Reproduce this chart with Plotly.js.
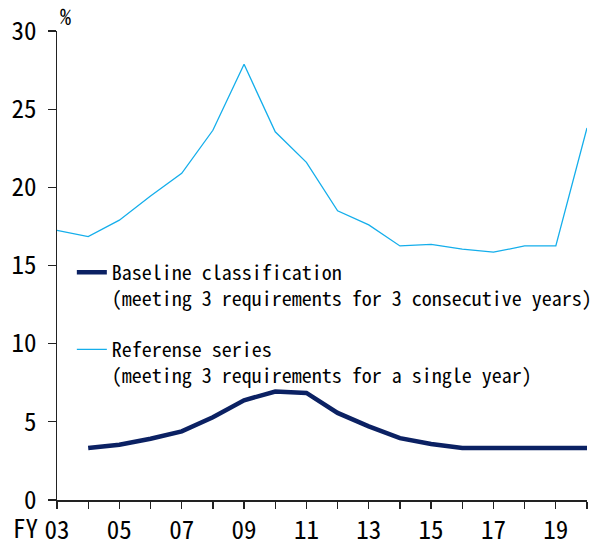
<!DOCTYPE html>
<html>
<head>
<meta charset="utf-8">
<script src="https://cdn.plot.ly/plotly-3.0.1.min.js"></script>
<style>html,body{margin:0;padding:0;background:#fff;}#chart{width:610px;height:544px;}</style>
</head>
<body>
<div id="chart"></div>
<script>
const years = [3,4,5,6,7,8,9,10,11,12,13,14,15,16,17,18,19,20];
const baselineValues = [null,3.32,3.53,3.92,4.39,5.29,6.38,6.94,6.85,5.57,4.71,3.96,3.58,3.32,3.32,3.32,3.32,3.32];
const referenceValues = [17.25,16.85,17.9,19.45,20.9,23.65,27.87,23.55,21.6,18.5,17.6,16.25,16.35,16.05,15.85,16.25,16.25,23.8];
const baselineName = "Baseline classification<br>(meeting 3 requirements for 3 consecutive years)";
const referenceName = "Referense series<br>(meeting 3 requirements for a single year)";
const xTickVals = [3,4,5,6,7,8,9,10,11,12,13,14,15,16,17,18,19,20];
const xTickText = ["03","","05","","07","","09","","11","","13","","15","","17","","19",""];
const yTickVals = [0,5,10,15,20,25,30];

const FONT = "'Noto Sans Mono CJK JP', 'DejaVu Sans Mono', monospace";

const traces = [
  {x: years, y: baselineValues, name: baselineName, type: 'scatter', mode: 'lines',
   line: {color: '#0B2163', width: 4.5}, legendgroup: 'a', connectgaps: false},
  {x: years, y: referenceValues, name: referenceName, type: 'scatter', mode: 'lines',
   line: {color: '#14AEEB', width: 1.3}, legendgroup: 'b'}
];

const layout = {
  width: 610, height: 544,
  margin: {l: 57, r: 23, t: 31, b: 44},
  paper_bgcolor: '#fff', plot_bgcolor: '#fff',
  font: {family: FONT, color: '#000', size: 20},
  showlegend: true,
  legend: {x: 0.028, y: 0.527, xanchor: 'left', yanchor: 'top',
           font: {family: FONT, size: 20, color: '#000'},
           bgcolor: 'rgba(0,0,0,0)', traceorder: 'grouped', tracegroupgap: 22, valign: 'top'},
  xaxis: {range: [3, 20], tickmode: 'array', tickvals: xTickVals, ticktext: xTickText,
          ticks: 'outside', ticklen: 7, tickwidth: 1.3, tickcolor: '#222',
          showline: true, linecolor: '#222', linewidth: 1.5, showgrid: false, zeroline: false,
          tickfont: {family: FONT, size: 25, color: '#000'}, fixedrange: true},
  yaxis: {range: [0, 30], tickmode: 'array', tickvals: yTickVals,
          ticks: 'outside', ticklen: 8, tickwidth: 1.3, tickcolor: '#222',
          showline: true, linecolor: '#222', linewidth: 1.5, showgrid: false, zeroline: false,
          ticklabelstandoff: 6,
          tickfont: {family: FONT, size: 25, color: '#000'}, fixedrange: true},
  annotations: [
    {text: '%', xref: 'paper', yref: 'paper', x: 0.0, y: 1.0, xanchor: 'left', yanchor: 'bottom',
     xshift: 1, yshift: -2, showarrow: false, font: {family: FONT, size: 22, color: '#000'}},
    {text: 'FY', xref: 'x', yref: 'paper', x: 3, y: 0, xanchor: 'right', yanchor: 'top',
     xshift: -17, yshift: -7, showarrow: false, font: {family: FONT, size: 25, color: '#000'}}
  ]
};

Plotly.newPlot('chart', traces, layout, {displayModeBar: false, staticPlot: true});
</script>
</body>
</html>
